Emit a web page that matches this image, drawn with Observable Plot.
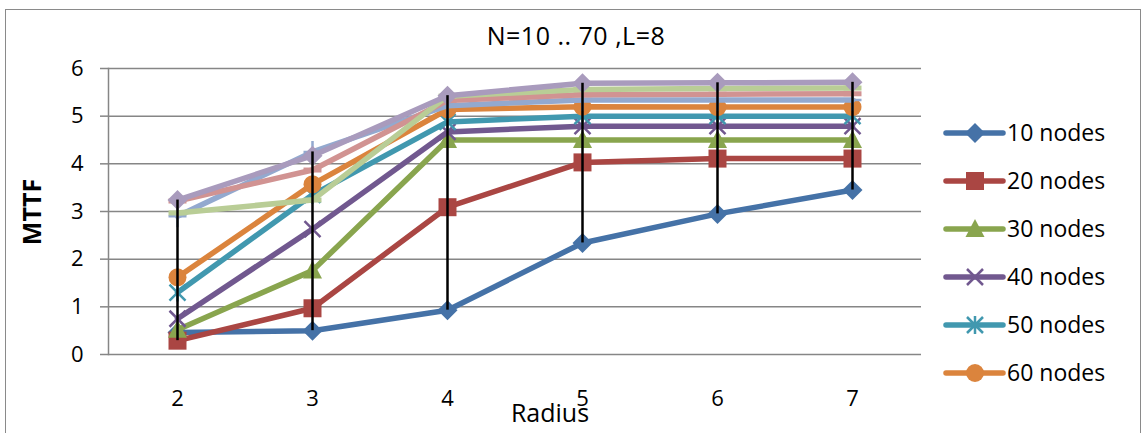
<!DOCTYPE html>
<html><head><meta charset="utf-8">
<script src="https://cdn.jsdelivr.net/npm/d3@7"></script>
<script src="https://cdn.jsdelivr.net/npm/@observablehq/plot@0.6"></script>
<style>
html,body{margin:0;padding:0;overflow:hidden;background:#fff;}
#wrap{position:relative;width:1144px;height:433px;font-family:"Open Sans",sans-serif;color:#000;}
#frame{position:absolute;left:5px;top:9px;width:1136px;height:600px;border:1.5px solid #8a8a8a;box-sizing:border-box;}
#plot{position:absolute;left:0;top:0;}
#title{position:absolute;left:0;width:1152px;top:18px;text-align:center;font-size:25px;letter-spacing:0.5px;}
#ylab{position:absolute;left:31px;top:212px;transform:translate(-50%,-50%) rotate(-90deg);font-size:25px;font-weight:bold;white-space:nowrap;}
#xlab{position:absolute;left:550px;top:412px;transform:translate(-50%,-50%);font-size:25px;white-space:nowrap;}
#legend{position:absolute;left:0;top:0;}
</style></head><body><div id="wrap">
<div id="frame"></div>
<div id="plot"></div>
<div id="title">N=10 .. 70 ,L=8</div>
<div id="ylab">MTTF</div>
<div id="xlab">Radius</div>
<svg id="legend" width="1144" height="433"></svg>
</div>
<script>
// ---- data ----
const radius = [2, 3, 4, 5, 6, 7];
const yTicks = [0, 1, 2, 3, 4, 5, 6];
const seriesNames = ["10 nodes", "20 nodes", "30 nodes", "40 nodes", "50 nodes", "60 nodes", "70 nodes", "80 nodes", "90 nodes", "100 nodes"];
const mttf10  = [0.46, 0.50, 0.93, 2.34, 2.95, 3.45];
const mttf20  = [0.29, 0.97, 3.09, 4.03, 4.11, 4.11];
const mttf30  = [0.52, 1.76, 4.50, 4.50, 4.50, 4.50];
const mttf40  = [0.75, 2.63, 4.67, 4.79, 4.79, 4.79];
const mttf50  = [1.30, 3.35, 4.88, 5.00, 5.00, 5.00];
const mttf60  = [1.62, 3.57, 5.14, 5.20, 5.19, 5.19];
const mttf70  = [2.90, 4.25, 5.22, 5.34, 5.34, 5.34];
const mttf80  = [3.22, 3.87, 5.33, 5.45, 5.46, 5.47];
const mttf90  = [2.97, 3.24, 5.42, 5.56, 5.58, 5.59];
const mttf100 = [3.24, 4.17, 5.43, 5.69, 5.70, 5.71];
const seriesValues = [mttf10, mttf20, mttf30, mttf40, mttf50, mttf60, mttf70, mttf80, mttf90, mttf100];
const colors = ["#4572A7", "#AA4643", "#89A54E", "#71588F", "#4198AF", "#DB843D", "#93A9CF", "#D19392", "#B9CD96", "#A99BBD"];
const legendCount = 6;

// ---- marker shapes (Excel style) ----
const sym = {
  diamond: {draw(c){c.moveTo(0,-10);c.lineTo(10,0);c.lineTo(0,10);c.lineTo(-10,0);c.closePath();}},
  square: {draw(c){c.rect(-9,-9,18,18);}},
  triangle: {draw(c){c.moveTo(0,-10);c.lineTo(9.5,8);c.lineTo(-9.5,8);c.closePath();}},
  times: {draw(c){c.moveTo(-8,-8);c.lineTo(8,8);c.moveTo(8,-8);c.lineTo(-8,8);}},
  asterisk: {draw(c){c.moveTo(-8,-8);c.lineTo(8,8);c.moveTo(8,-8);c.lineTo(-8,8);c.moveTo(0,-9);c.lineTo(0,9);}},
  circle: {draw(c){c.moveTo(9,0);c.arc(0,0,9,0,2*Math.PI);}},
  plus: {draw(c){c.moveTo(0,-11);c.lineTo(0,11);c.moveTo(-9,0);c.lineTo(9,0);}},
  dash: {draw(c){c.rect(-9,-2.5,18,5);}}
};
const markerKinds = ["diamond","square","triangle","times","asterisk","circle","plus","dash","dash","diamond"];
const strokedKinds = new Set(["times","asterisk","plus"]);

const rows = seriesNames.flatMap((name, i) => radius.map((r, j) => ({series: name, idx: i, radius: r, mttf: seriesValues[i][j]})));
const hiLo = radius.map((r, j) => ({radius: r, lo: d3.min(seriesValues, v => v[j]), hi: d3.max(seriesValues, v => v[j])}));

const marks = [
  Plot.gridY(yTicks, {stroke: "#868686", strokeOpacity: 1, strokeWidth: 1.5}),
  Plot.frame({anchor: "left", stroke: "#868686", strokeWidth: 1.5}),
  Plot.axisY(yTicks, {tickSize: 8, tickPadding: 17, stroke: "#868686", strokeWidth: 1.5, fontSize: 22, label: null}),
  Plot.axisX(radius, {tickSize: 0, tickPadding: 36, fontSize: 22, label: null})
];
seriesNames.forEach((name, i) => {
  const d = rows.filter(r => r.idx === i);
  marks.push(Plot.line(d, {x: "radius", y: "mttf", stroke: colors[i], strokeWidth: 5.5, strokeLinejoin: "round", strokeLinecap: "round"}));
  const k = markerKinds[i];
  if (strokedKinds.has(k)) {
    marks.push(Plot.dot(d, {x: "radius", y: "mttf", symbol: sym[k], stroke: colors[i], fill: "none", strokeWidth: 2.5}));
  } else {
    marks.push(Plot.dot(d, {x: "radius", y: "mttf", symbol: sym[k], fill: colors[i], stroke: "none"}));
  }
});
marks.push(Plot.ruleX(hiLo, {x: "radius", y1: "lo", y2: "hi", stroke: "#000", strokeWidth: 2.5}));

const chart = Plot.plot({
  width: 1144, height: 433,
  marginLeft: 108, marginRight: 223, marginTop: 68, marginBottom: 79,
  style: {fontFamily: "'Open Sans', sans-serif", fontSize: "22px", color: "#000", background: "transparent", overflow: "visible"},
  x: {type: "point", domain: radius, padding: 0.5},
  y: {domain: [0, 6]},
  marks
});
document.getElementById("plot").appendChild(chart);

// ---- legend ----
const lg = d3.select("#legend");
const rowY = d3.scalePoint().domain(d3.range(legendCount)).range([133, 373]);
seriesNames.slice(0, legendCount).forEach((name, i) => {
  const g = lg.append("g").attr("transform", `translate(0,${rowY(i)})`);
  g.append("line").attr("x1", 946).attr("x2", 1003).attr("stroke", colors[i]).attr("stroke-width", 5.5).attr("stroke-linecap", "round");
  const k = markerKinds[i];
  const p = g.append("path").attr("transform", "translate(975,0)").attr("d", d3.symbol().type(sym[k])());
  if (strokedKinds.has(k)) p.attr("fill", "none").attr("stroke", colors[i]).attr("stroke-width", 2.5);
  else p.attr("fill", colors[i]);
  g.append("text").attr("x", 1007).attr("dy", "0.36em").attr("font-size", 23).attr("font-family", "'Open Sans', sans-serif").text(name);
});
</script></body></html>
